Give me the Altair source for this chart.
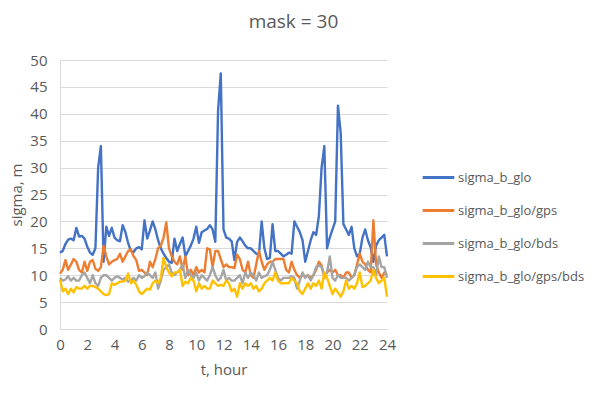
import altair as alt
import pandas as pd
import numpy as np

t_hours = [round(i * 0.2, 1) for i in range(121)]

sigma_b_glo = [
    14.2, 14.5, 15.8, 16.6, 16.8, 16.5, 18.8, 17.2, 17.3, 16.8,
    15.3, 14.2, 13.8, 15.0, 30.0, 34.0, 12.5, 19.0, 17.3, 18.8,
    17.0, 16.5, 16.3, 19.3, 18.0, 16.0, 14.5, 14.3, 15.0, 15.2,
    14.8, 20.2, 16.8, 18.3, 20.0, 18.5, 16.5, 15.0, 14.0, 13.2,
    12.5, 12.3, 16.8, 14.5, 15.8, 17.0, 13.5, 14.5, 15.5, 16.8,
    19.0, 16.0, 18.0, 18.3, 18.6, 19.3, 18.5, 16.2, 40.5, 47.5,
    18.5, 17.0, 16.8, 16.3, 12.8, 16.2, 17.0, 16.3, 15.5, 15.0,
    15.0, 14.5, 14.0, 13.8, 20.0, 15.0, 13.0, 13.2, 19.5, 14.5,
    14.5, 14.0, 13.5, 13.8, 14.2, 14.0, 20.0, 19.0, 18.0, 16.5,
    12.5, 14.5, 16.5, 18.0, 17.5, 21.0, 30.0, 34.0, 15.0, 17.0,
    18.5, 20.0, 41.5, 36.5, 19.5, 18.5, 17.5, 19.0, 15.0, 13.5,
    14.0, 17.0, 18.5, 16.5, 15.2, 12.5, 15.5, 16.5, 17.0, 17.5,
    13.5,
]

sigma_b_glo_gps = [
    10.3, 11.0, 12.8, 11.0, 12.0, 13.0, 12.5, 11.0, 10.5, 12.5,
    10.8, 12.5, 12.8, 11.2, 10.8, 11.5, 15.5, 13.5, 12.0, 12.5,
    12.8, 13.0, 14.0, 12.5, 13.5, 14.5, 14.8, 13.5, 12.8, 10.8,
    11.0, 10.5, 10.0, 12.5, 11.5, 13.0, 15.0, 15.5, 17.0, 19.8,
    15.0, 13.5, 12.5, 12.0, 13.5, 11.0, 13.5, 10.0, 11.0, 10.0,
    11.5, 10.5, 11.0, 10.5, 15.0, 14.8, 11.5, 14.5, 14.5, 13.0,
    11.5, 12.0, 11.5, 11.5, 11.3, 13.8, 13.0, 11.0, 10.5, 12.5,
    10.0, 9.5, 12.0, 14.5, 12.5, 11.0, 12.0, 12.5, 12.5, 13.0,
    13.0, 13.0, 13.0, 11.0, 10.5, 12.5, 11.0, 10.0, 9.5, 10.0,
    9.8, 10.0, 9.5, 10.0, 11.0, 12.5, 11.8, 9.5, 10.5, 11.0,
    10.5, 11.0, 10.0, 10.0, 9.5, 10.5, 10.5, 9.5, 10.0, 12.0,
    14.0, 12.5, 12.0, 11.0, 10.5, 20.2, 12.0, 10.5, 9.5, 10.5,
    10.0,
]

sigma_b_glo_bds = [
    9.5, 9.0, 9.2, 9.8, 9.0, 9.5, 9.0, 9.0, 10.0, 10.5,
    9.5, 8.5, 10.0, 8.5, 8.0, 9.5, 10.0, 10.0, 9.5, 9.0,
    9.5, 9.8, 9.5, 9.2, 9.5, 8.8, 9.0, 9.5, 9.0, 10.0,
    9.5, 9.8, 10.5, 10.0, 9.5, 10.5, 7.5, 9.0, 11.0, 11.5,
    12.0, 10.5, 10.0, 10.5, 11.0, 12.0, 9.5, 11.0, 10.0, 9.5,
    10.5, 9.0, 10.0, 9.5, 9.0, 10.0, 11.5, 10.0, 9.0, 9.5,
    11.0, 9.0, 9.5, 9.0, 9.0, 9.5, 10.0, 8.5, 10.5, 9.5,
    10.5, 10.0, 9.0, 10.5, 9.5, 9.8, 10.0, 11.0, 12.5, 11.0,
    9.5, 9.0, 9.5, 9.5, 9.5, 9.8, 9.5, 7.5, 9.0, 10.5,
    9.5, 10.0, 9.0, 10.0, 11.5, 11.8, 11.5, 10.0, 10.5, 13.5,
    9.5, 9.0, 10.0, 9.5, 9.5, 9.5, 9.0, 9.5, 10.0, 11.5,
    12.0, 11.5, 11.0, 12.5, 11.5, 11.5, 10.0, 13.5, 11.5, 11.5,
    9.5,
]

sigma_b_glo_gps_bds = [
    9.2, 7.0, 7.5, 6.5, 7.5, 6.8, 7.8, 7.5, 7.5, 8.0,
    7.5, 8.0, 8.0, 7.8, 7.5, 7.0, 6.5, 6.3, 6.5, 8.5,
    8.2, 8.5, 8.8, 8.8, 9.0, 10.3, 8.5, 9.0, 8.2, 7.0,
    6.5, 7.0, 7.5, 7.3, 8.5, 9.0, 8.5, 9.5, 13.2, 11.5,
    10.5, 9.8, 10.5, 10.5, 11.0, 8.0, 8.8, 8.5, 9.5, 9.0,
    7.0, 8.5, 7.5, 8.0, 7.5, 7.5, 9.0, 8.5, 8.0, 8.2,
    8.0, 9.0, 8.5, 7.0, 7.5, 6.0, 8.5, 7.5, 8.5, 8.0,
    8.5, 7.5, 8.0, 7.0, 7.5, 8.5, 9.0, 9.5, 9.0, 10.5,
    9.0, 8.5, 8.5, 8.5, 8.5, 9.5, 9.0, 8.5, 7.0, 6.5,
    7.5, 8.5, 7.5, 8.5, 8.0, 9.0, 7.5, 10.5, 9.5, 8.0,
    6.5, 7.5, 6.8, 6.0, 7.0, 9.0, 7.5, 8.0, 7.5, 8.5,
    10.5, 7.8, 8.0, 8.5, 9.0, 11.0, 9.5, 8.5, 9.0, 9.5,
    6.0,
]

series_names = ["sigma_b_glo", "sigma_b_glo/gps", "sigma_b_glo/bds", "sigma_b_glo/gps/bds"]
series_values = [sigma_b_glo, sigma_b_glo_gps, sigma_b_glo_bds, sigma_b_glo_gps_bds]
series_colors = ["#4472C4", "#ED7D31", "#A5A5A5", "#FFC000"]

rows = []
for order, (name, vals) in enumerate(zip(series_names, series_values)):
    for t, v in zip(t_hours, vals):
        rows.append({"t": t, "sigma": v, "series": name, "order": order})
df = pd.DataFrame(rows)

FONT = "Open Sans"
TXT = "#595959"

chart = alt.Chart(df).mark_line(strokeWidth=2.4, strokeJoin="round").encode(
    x=alt.X("t:Q", title="t, hour",
            scale=alt.Scale(domain=[0, 24], nice=False),
            axis=alt.Axis(values=list(range(0, 25, 2)), grid=False, ticks=False,
                          labelFlush=False, labelOverlap=False,
                          domainColor="#d9d9d9", labelPadding=8, titlePadding=10,
                          labelFontSize=15, titleFontSize=15, labelColor=TXT, titleColor=TXT,
                          labelFont=FONT, titleFont=FONT, titleFontWeight="normal")),
    y=alt.Y("sigma:Q", title="sigma, m",
            scale=alt.Scale(domain=[0, 50], nice=False),
            axis=alt.Axis(values=list(range(0, 51, 5)), grid=True, gridColor="#d9d9d9",
                          ticks=False, domainColor="#d9d9d9", labelPadding=13, titlePadding=5,
                          labelFontSize=15, titleFontSize=15, labelColor=TXT, titleColor=TXT,
                          labelFont=FONT, titleFont=FONT, titleFontWeight="normal")),
    color=alt.Color("series:N", sort=series_names,
                    scale=alt.Scale(domain=series_names, range=series_colors),
                    legend=alt.Legend(title=None, orient="none", legendX=361, legendY=100,
                                      symbolType="stroke", symbolStrokeWidth=3,
                                      symbolSize=1000, rowPadding=8,
                                      labelFontSize=13, labelFont=FONT, labelColor=TXT,
                                      labelOffset=2, labelLimit=300)),
    order="order:Q",
    detail="series:N",
).properties(
    width=327, height=269,
    title=alt.Title("mask = 30", fontSize=19, font=FONT, color=TXT, fontWeight="normal",
                    anchor="middle", dx=70, offset=21),
    autosize=alt.AutoSizeParams(type="none"),
    padding={"left": 52, "top": 52, "right": 205, "bottom": 60},
).configure_view(stroke=None)

chart.save("out.html", embed_options={"renderer": "svg", "actions": False})
